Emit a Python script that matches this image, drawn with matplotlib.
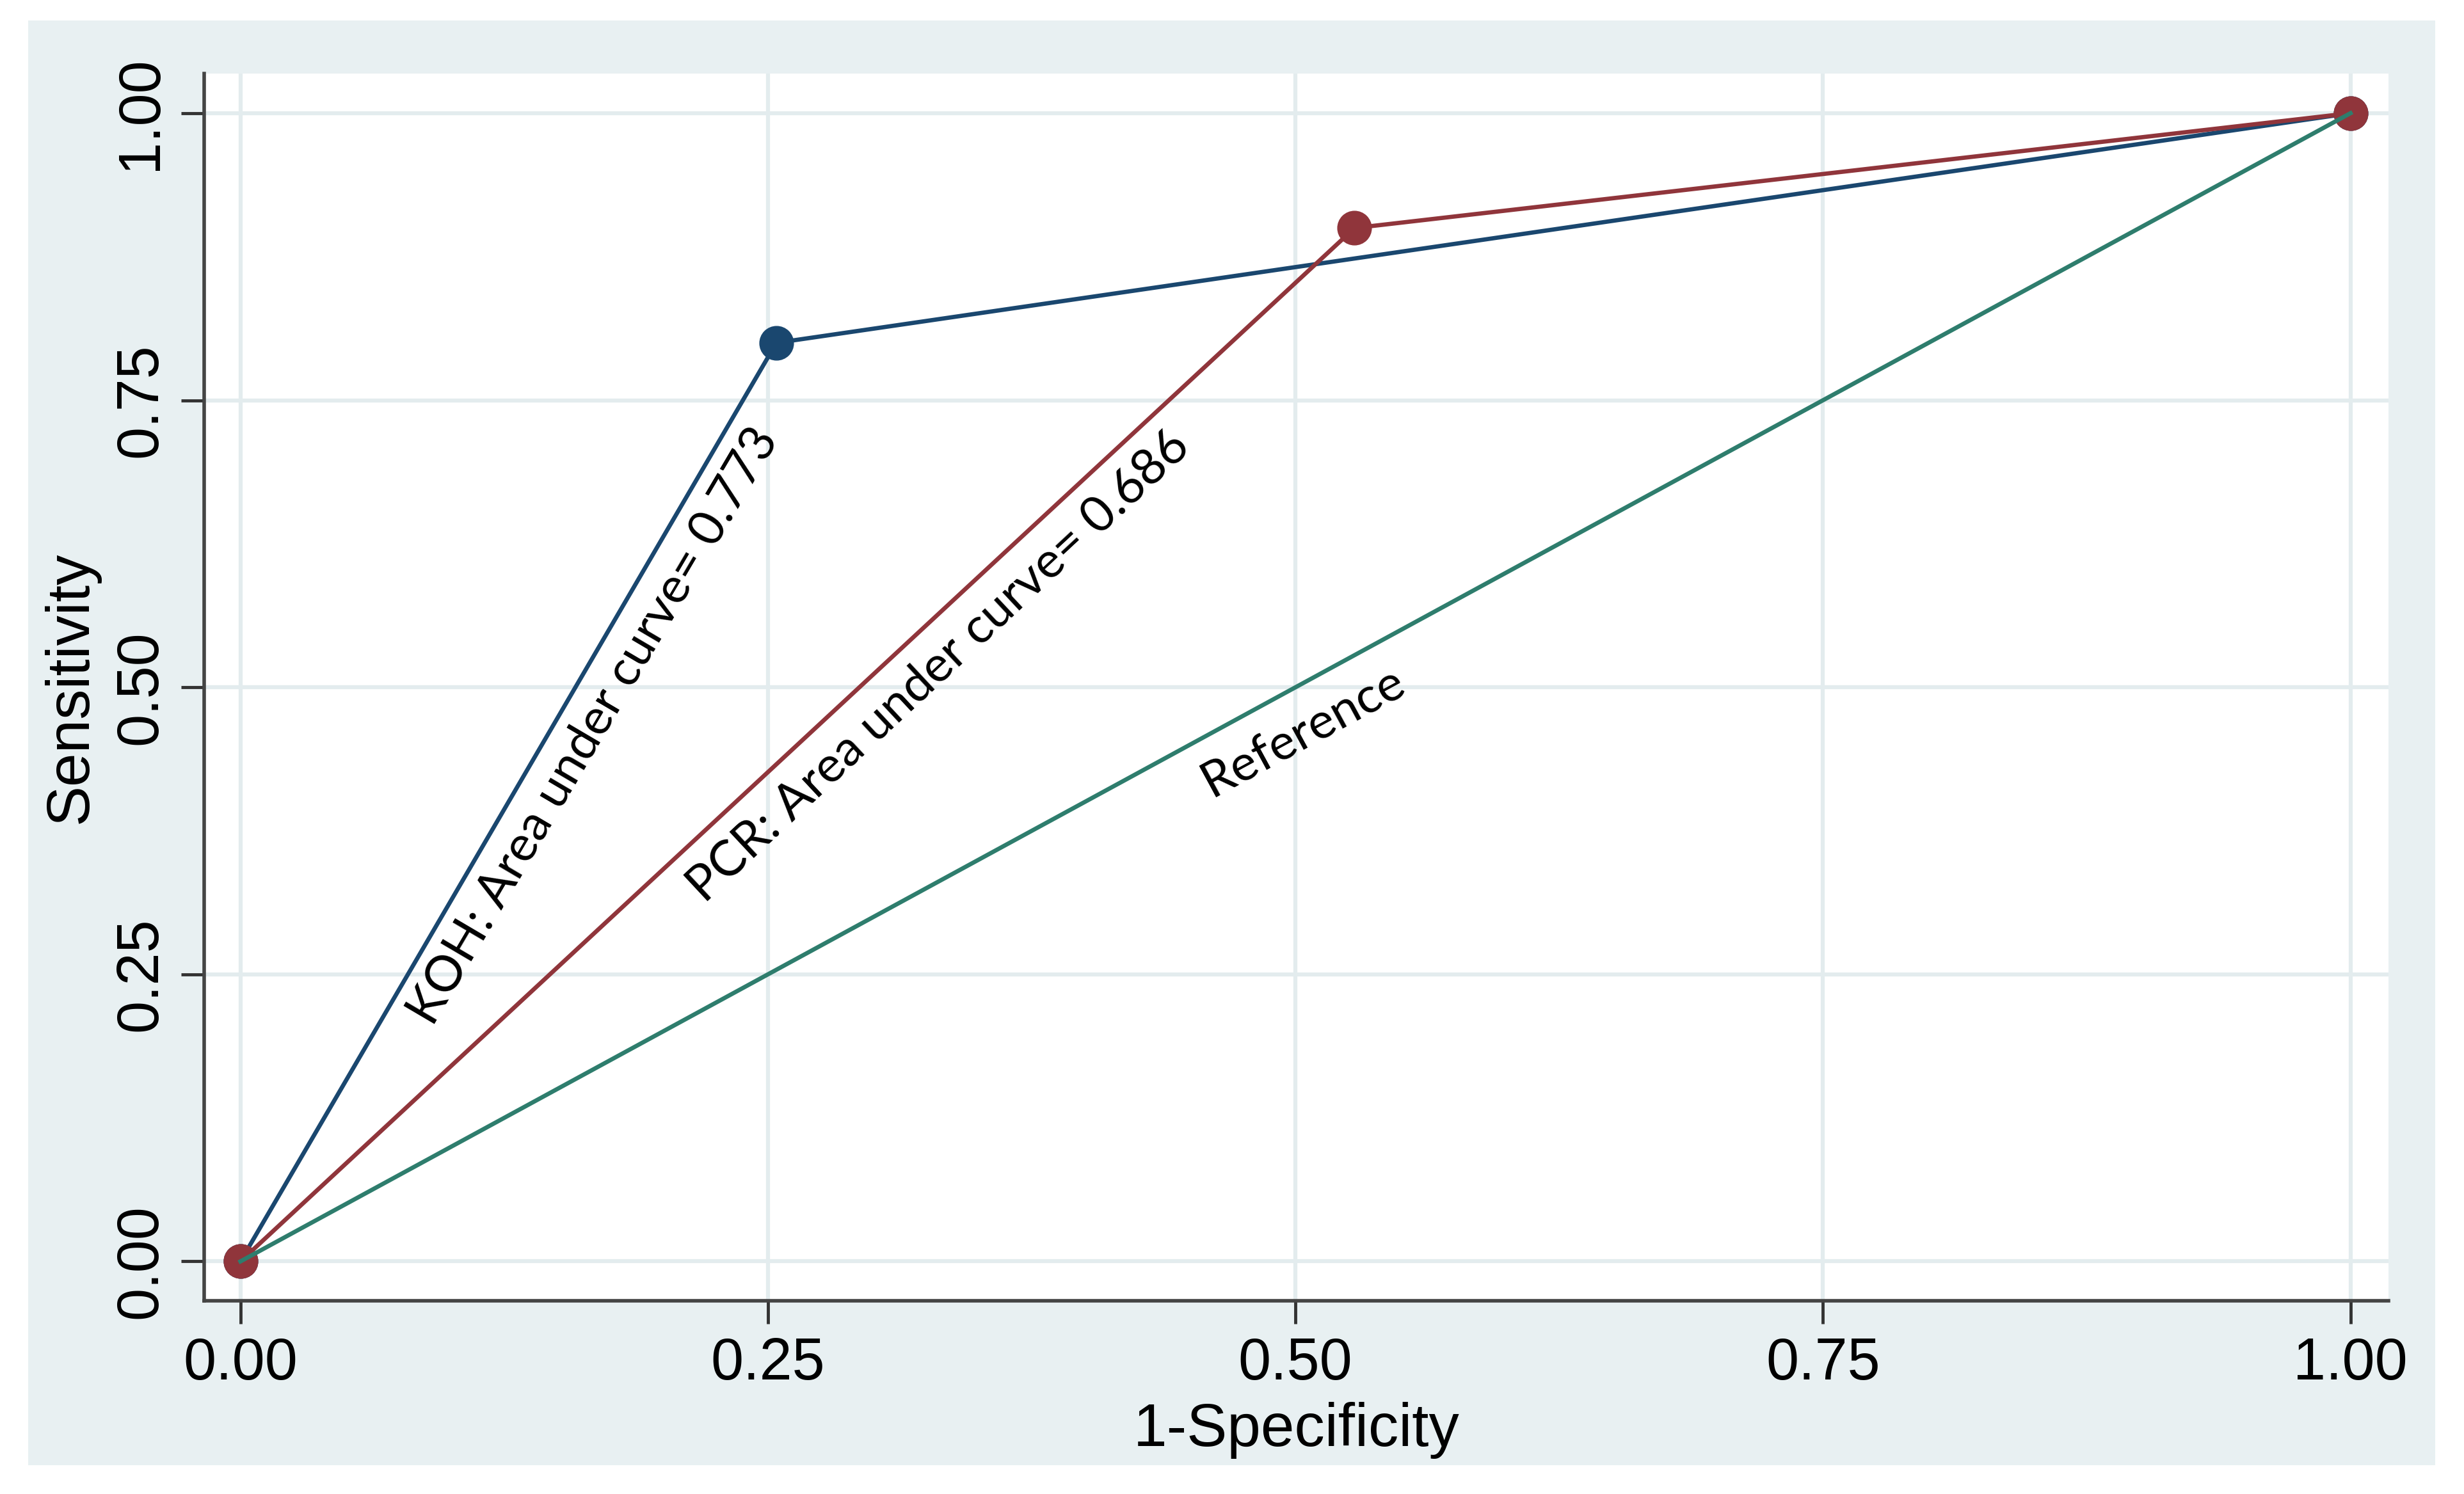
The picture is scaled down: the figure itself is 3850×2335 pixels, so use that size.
import numpy as np
import matplotlib
matplotlib.use("Agg")
import matplotlib.pyplot as plt
from matplotlib.patches import Rectangle

# ROC points
koh_fpr = [0.0, 0.254, 1.0]
koh_tpr = [0.0, 0.80, 1.0]
pcr_fpr = [0.0, 0.528, 1.0]
pcr_tpr = [0.0, 0.90, 1.0]
ref_x = [0.0, 1.0]
ref_y = [0.0, 1.0]

ticks = [0.0, 0.25, 0.50, 0.75, 1.0]
tick_labels = ["0.00", "0.25", "0.50", "0.75", "1.00"]

koh_label = "KOH: Area under curve= 0.773"
pcr_label = "PCR: Area under curve= 0.686"
ref_label = "Reference"

navy = "#1a476f"
maroon = "#90353b"
teal = "#2e7d6d"
bg = "#e8f0f2"
grid_c = "#e3ecee"

plt.rcParams["font.family"] = ["Liberation Sans", "DejaVu Sans"]

fig = plt.figure(figsize=(38.5, 23.35), dpi=100, facecolor="white")
# light panel behind the plot region
fig.patches.append(Rectangle((44 / 3850, 1 - 2290 / 2335), (3805 - 44) / 3850, (2290 - 32) / 2335,
                             transform=fig.transFigure, facecolor=bg, edgecolor="none", zorder=-10))

ax = fig.add_axes([319 / 3850, 302 / 2335, (3732 - 319) / 3850, (2220 - 302) / 2335])
ax.set_facecolor("white")

ax.plot(koh_fpr, koh_tpr, color=navy, lw=4.8, marker="o", ms=38, zorder=3)
ax.plot(pcr_fpr, pcr_tpr, color=maroon, lw=4.8, marker="o", ms=38, zorder=4)
ax.plot(ref_x, ref_y, color=teal, lw=4.8, zorder=5)

ax.set_xlim(-0.0172, 1.018)
ax.set_ylim(-0.0343, 1.0345)
ax.set_xticks(ticks)
ax.set_xticklabels(tick_labels)
ax.set_yticks(ticks)
ax.set_yticklabels(tick_labels, rotation=90, va="center")
ax.tick_params(axis="both", labelsize=66, length=26, width=3.5, color="#333333", pad=14)
ax.grid(True, color=grid_c, lw=4.5, zorder=0)
ax.set_axisbelow(True)

for s in ["top", "right"]:
    ax.spines[s].set_visible(False)
for s in ["left", "bottom"]:
    ax.spines[s].set_color("#444444")
    ax.spines[s].set_linewidth(4)

ax.set_xlabel("1-Specificity", fontsize=68, labelpad=12)
ax.set_ylabel("Sensitivity", fontsize=68, labelpad=16)

ann = dict(fontsize=56, family=["Lato", "DejaVu Sans"], ha="center", va="center",
           rotation_mode="anchor", zorder=6)
ax.text(0.1675, 0.466, koh_label, rotation=59.5, **ann)
ax.text(0.331, 0.518, pcr_label, rotation=43, **ann)
ax.text(0.504, 0.461, ref_label, rotation=28.5, **ann)

fig.savefig("out.png", dpi=100, facecolor="white")
